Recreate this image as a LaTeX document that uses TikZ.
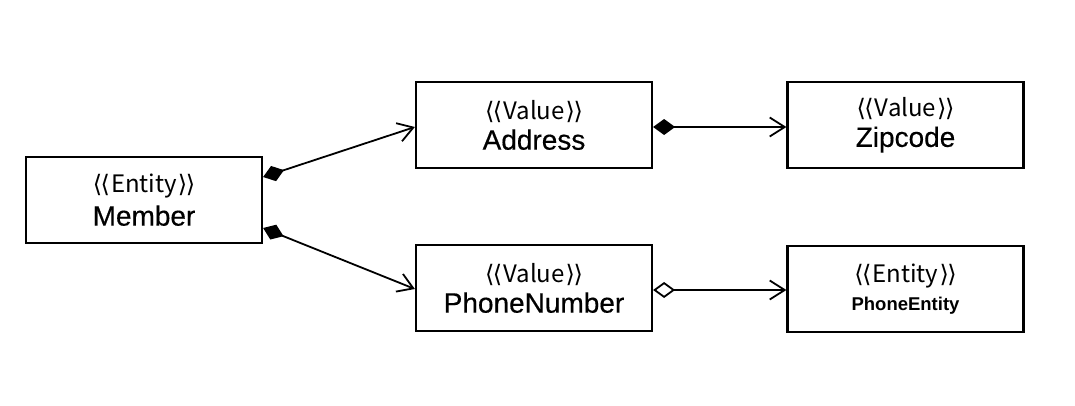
\documentclass[tikz,border=0pt]{standalone}
\usepackage{fontspec}
\setmainfont{Liberation Sans}
\newfontfamily\namefont[FakeBold=0.4]{Liberation Sans}
\newfontfamily\brk{DejaVu Sans}
\newfontfamily\sterfont{Noto Sans CJK KR}
\usetikzlibrary{arrows.meta}
\newcommand{\ster}[1]{{\fontsize{24}{24}\sterfont{\brk ⟨\kern-1.5pt⟨\kern1pt}#1{\brk \kern1pt⟩\kern-1.5pt⟩}}}
\newcommand{\cname}[1]{{\fontsize{28}{29}\namefont #1}}
\begin{document}
\begin{tikzpicture}[x=1pt,y=-1pt,
  cls/.style={draw,line width=2.2pt,minimum width=236pt,minimum height=86pt,inner sep=0pt,align=center},
  conn/.style={line width=1.8pt},
  comp/.style={conn,{Diamond[length=22pt,width=16pt]}-{Straight Barb[length=15pt,width=19pt,line width=1.8pt]}},
  aggr/.style={conn,{Diamond[open,length=22pt,width=16pt,fill=white]}-{Straight Barb[length=15pt,width=19pt,line width=1.8pt]}}
]
\useasboundingbox (0,0) rectangle (1075,405);
\node[cls] (member) at (144,200) {\ster{Entity}\\[6pt]\cname{Member}};
\node[cls] (address) at (534,125) {\ster{Value}\\[6pt]\cname{Address}};
\node[cls] (zipcode) at (905.5,125) {\ster{Value}\\[6pt]\cname{Zipcode}};
\node[cls] (phonenumber) at (534,288) {\ster{Value}\\[6pt]\cname{PhoneNumber}};
\node[cls] (phoneentity) at (905.5,289) {\ster{Entity}\\[8pt]{\fontsize{18.5}{20}\selectfont\bfseries PhoneEntity}};
\coordinate (m1) at ([yshift=23pt]member.east);
\coordinate (m2) at ([yshift=-28pt]member.east);
\coordinate (a1) at ([yshift=-2pt]address.west);
\coordinate (p1) at ([yshift=-1pt]phonenumber.west);
\draw[comp] (m1) -- (a1);
\draw[comp] (m2) -- (p1);
\draw[comp] ([yshift=-2pt]address.east) -- ([yshift=-2pt]zipcode.west);
\draw[aggr] ([yshift=-2pt]phonenumber.east) -- ([yshift=-1pt]phoneentity.west);
\end{tikzpicture}
\end{document}
